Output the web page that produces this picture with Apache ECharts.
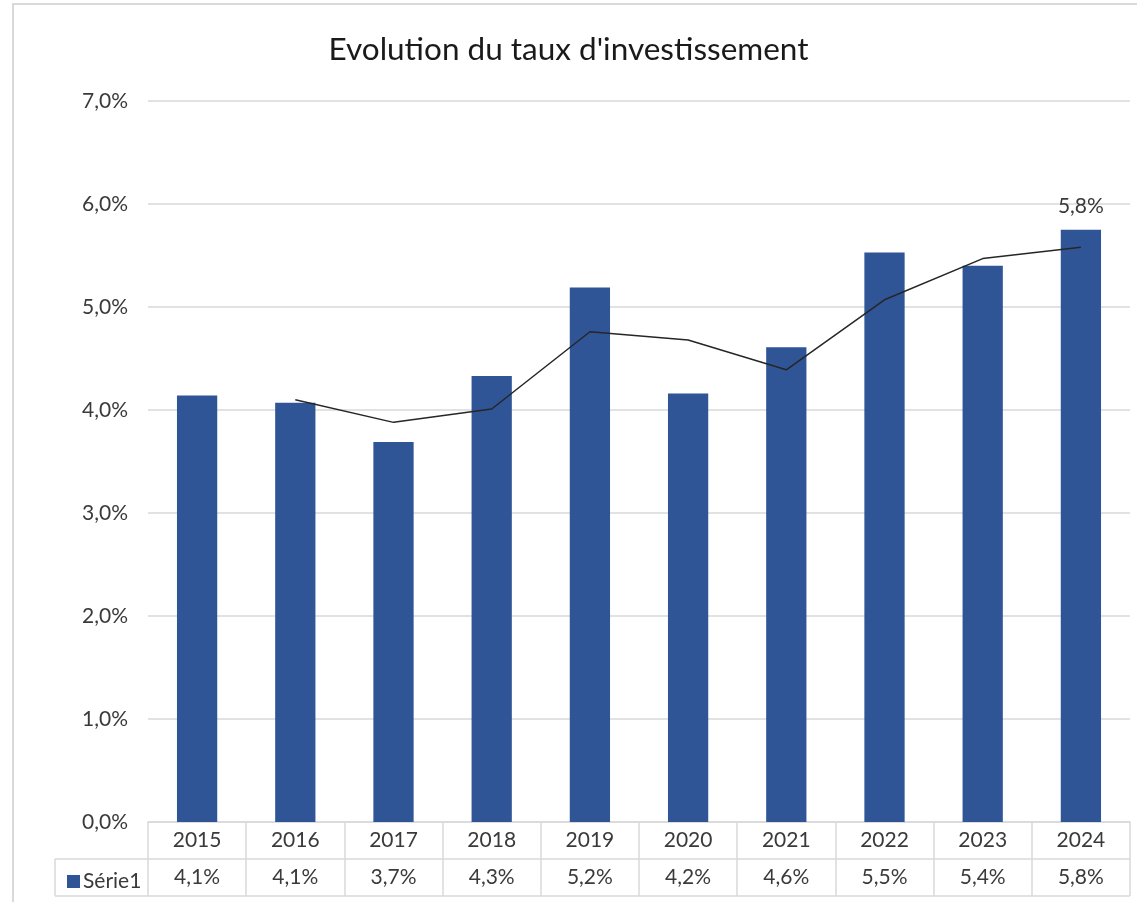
<!DOCTYPE html>
<html>
<head>
<meta charset="utf-8">
<script src="https://cdn.jsdelivr.net/npm/echarts@6/dist/echarts.min.js"></script>
<style>
  html, body { margin: 0; padding: 0; background: #fff; }
  #chart { width: 1137px; height: 902px; }
</style>
</head>
<body>
<div id="chart"></div>
<script>
const years = ['2015', '2016', '2017', '2018', '2019', '2020', '2021', '2022', '2023', '2024']
const taux = [4.14, 4.07, 3.69, 4.33, 5.19, 4.16, 4.61, 5.53, 5.40, 5.75]
const tauxLabels = ['4,1%', '4,1%', '3,7%', '4,3%', '5,2%', '4,2%', '4,6%', '5,5%', '5,4%', '5,8%']
// moyenne mobile
const moyenne = [null, 4.10, 3.88, 4.01, 4.76, 4.68, 4.39, 5.07, 5.47, 5.58]

const font = 'Lato, "Open Sans", sans-serif'
const gridColor = '#d9d9d9'
const textColor = '#3a3a3a'

const G = { left: 148, right: 7, top: 101, bottom: 80 }
const W = 1137, H = 902
const axisY = H - G.bottom
const rowH = 37
const tableLeft = 55
const gridRight = W - G.right

const chart = echarts.init(document.getElementById('chart'))

chart.setOption({
    animation: false,
    textStyle: { fontFamily: font },
    title: {
        text: 'Evolution du taux d\'investissement',
        left: 'center',
        top: 29,
        textStyle: { fontSize: 31.5, fontWeight: 'normal', color: '#1a1a1a', fontFamily: font }
    },
    legend: {
        data: ['Série1'],
        icon: 'rect',
        left: 62,
        top: axisY + rowH + 7,
        itemWidth: 13,
        itemHeight: 13,
        itemGap: 4,
        textStyle: { fontSize: 21, color: textColor, fontFamily: font, padding: [0, 0, 0, -2] },
        selectedMode: false
    },
    grid: G,
    xAxis: {
        type: 'category',
        data: years,
        axisLine: { lineStyle: { color: gridColor, width: 1.5 } },
        axisTick: { show: true, interval: 0, length: rowH * 2, lineStyle: { color: gridColor, width: 1.5 } },
        axisLabel: {
            interval: 0,
            margin: 0,
            color: textColor,
            fontSize: 21,
            lineHeight: rowH,
            fontFamily: font,
            formatter: (v, i) => v + '\n' + tauxLabels[i]
        }
    },
    yAxis: {
        type: 'value',
        min: 0,
        max: 7,
        interval: 1,
        axisLine: { show: false },
        axisTick: { show: false },
        axisLabel: {
            margin: 20,
            color: textColor,
            fontSize: 21,
            fontFamily: font,
            formatter: v => v.toFixed(1).replace('.', ',') + '%'
        },
        splitLine: { lineStyle: { color: gridColor, width: 1.5 } }
    },
    series: [
        {
            name: 'Série1',
            type: 'bar',
            barWidth: '41%',
            itemStyle: { color: '#2f5597' },
            data: taux.map((v, i) => i === taux.length - 1 ? {
                value: v,
                label: {
                    show: true,
                    position: 'top',
                    distance: 13,
                    fontSize: 21,
                    color: textColor,
                    fontFamily: font,
                    formatter: () => tauxLabels[i]
                }
            } : v)
        },
        {
            name: 'Moy. mobile sur 2 pér. (Série1)',
            type: 'line',
            data: moyenne,
            symbol: 'none',
            lineStyle: { color: '#262626', width: 1.5 },
            z: 5
        }
    ],
    graphic: [
        {
            type: 'rect',
            shape: { x: 13, y: 4, width: W, height: H },
            style: { fill: 'none', stroke: gridColor, lineWidth: 2 },
            silent: true
        },
        {
            type: 'line',
            shape: { x1: tableLeft, y1: axisY + rowH, x2: gridRight, y2: axisY + rowH },
            style: { stroke: gridColor, lineWidth: 1.5 }
        },
        {
            type: 'line',
            shape: { x1: tableLeft, y1: axisY + rowH * 2, x2: gridRight, y2: axisY + rowH * 2 },
            style: { stroke: gridColor, lineWidth: 1.5 }
        },
        {
            type: 'line',
            shape: { x1: tableLeft, y1: axisY + rowH, x2: tableLeft, y2: axisY + rowH * 2 },
            style: { stroke: gridColor, lineWidth: 1.5 }
        }
    ]
})
</script>
</body>
</html>
